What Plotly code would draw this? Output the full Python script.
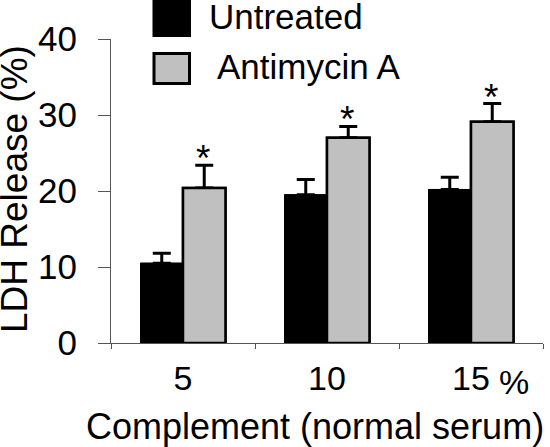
import plotly.graph_objects as go

# ---- data ----
categories = ["5", "10", "15"]
untreated = [10.5, 19.5, 20.2]
untreated_err = [1.3, 2.0, 1.6]
antimycin = [20.4, 27.0, 29.1]
antimycin_err = [3.0, 1.5, 2.4]
series_names = ["Untreated", "Antimycin A"]
series_colors = ["#000000", "#c0c0c0"]
significance = ["*", "*", "*"]
y_ticks = [0, 10, 20, 30, 40]
x_unit = "%"
x_title = "Complement (normal serum)"
y_title = "LDH Release (%)"

FONT = "Liberation Sans, Arial, sans-serif"
W, H = 550, 447
L, R, T, B = 111, 7, 39, 104
PW, PH = W - L - R, H - T - B


def px_x(px):
    return (px - L) / PW


def px_y(py):
    return (H - B - py) / PH


series = [
    (series_names[0], untreated, untreated_err, series_colors[0], 1.0),
    (series_names[1], antimycin, antimycin_err, series_colors[1], 2.5),
]

fig = go.Figure()
# error bars (upper only) drawn first ...
for name, vals, errs, col, lw in series:
    fig.add_bar(
        x=categories, y=vals, name=name, offsetgroup=name, showlegend=False,
        marker=dict(color=col, line=dict(color="black", width=lw)),
        error_y=dict(type="data", array=errs, arrayminus=[0] * len(errs),
                     symmetric=False, color="black", thickness=3, width=9),
        hoverinfo="skip",
    )
# ... then the bars themselves on top, hiding the lower error caps
for name, vals, errs, col, lw in series:
    fig.add_bar(
        x=categories, y=vals, name=name, offsetgroup=name,
        marker=dict(color=col, line=dict(color="black", width=lw)),
    )

annotations = []
# significance asterisks above Antimycin A bars (x given as category index)
for i, (v, e, s) in enumerate(zip(antimycin, antimycin_err, significance)):
    annotations.append(dict(
        x=i, y=v + e, xref="x", yref="y", text=s, showarrow=False,
        xanchor="center", yanchor="bottom", xshift=20, yshift=-16,
        font=dict(family=FONT, size=37, color="black"),
    ))
# unit after last category label
annotations.append(dict(
    x=len(categories) - 1, y=px_y(382), xref="x", yref="paper", text=x_unit, showarrow=False,
    xanchor="center", yanchor="middle", xshift=43,
    font=dict(family=FONT, size=34, color="black"),
))
# x axis title
annotations.append(dict(
    x=px_x(315), y=px_y(426), xref="paper", yref="paper",
    text=x_title, showarrow=False,
    xanchor="center", yanchor="middle",
    font=dict(family=FONT, size=36, color="black"),
))
# y axis title
annotations.append(dict(
    x=px_x(14), y=px_y(189), xref="paper", yref="paper",
    text=y_title, showarrow=False, textangle=-90,
    xanchor="center", yanchor="middle",
    font=dict(family=FONT, size=37, color="black"),
))

# manual legend (large swatches as in the reference)
shapes = []
legend_rows = [(0, 37, 17), (52, 85, 66)]
for (top, bot, mid), name, col in zip(legend_rows, series_names, series_colors):
    shapes.append(dict(
        type="rect", xref="paper", yref="paper",
        x0=px_x(154), x1=px_x(189.5), y0=px_y(bot - 1.5), y1=px_y(top + 1.5),
        fillcolor=col, line=dict(color="black", width=3),
    ))
    annotations.append(dict(
        x=px_x(207 if name == series_names[0] else 215), y=px_y(mid),
        xref="paper", yref="paper", text=name, showarrow=False,
        xanchor="left", yanchor="middle",
        font=dict(family=FONT, size=35, color="black"),
    ))

fig.update_layout(
    width=W, height=H,
    margin=dict(l=L, r=R, t=T, b=B, autoexpand=False),
    barmode="group", bargap=0.41, bargroupgap=0,
    plot_bgcolor="white", paper_bgcolor="white",
    showlegend=False,
    font=dict(family=FONT, color="black"),
    annotations=annotations, shapes=shapes,
    xaxis=dict(
        type="category", range=[-0.5, len(categories) - 0.5],
        showline=True, linecolor="#555", linewidth=1,
        ticks="outside", tickson="boundaries", ticklen=5, tickcolor="#555",
        tickfont=dict(family=FONT, size=34, color="black"), tickangle=0,
        ticklabelstandoff=5,
        showgrid=False, zeroline=False, automargin=False,
    ),
    yaxis=dict(
        range=[0, 40], tickvals=y_ticks, showline=True, linecolor="#555", linewidth=1,
        ticks="outside", ticklen=12, tickcolor="#555",
        tickfont=dict(family=FONT, size=35, color="black"),
        ticklabelstandoff=14,
        showgrid=False, zeroline=False, automargin=False,
    ),
)

fig.write_html("out.html", config={"displayModeBar": False},
               post_script="document.body.style.margin='0';")
